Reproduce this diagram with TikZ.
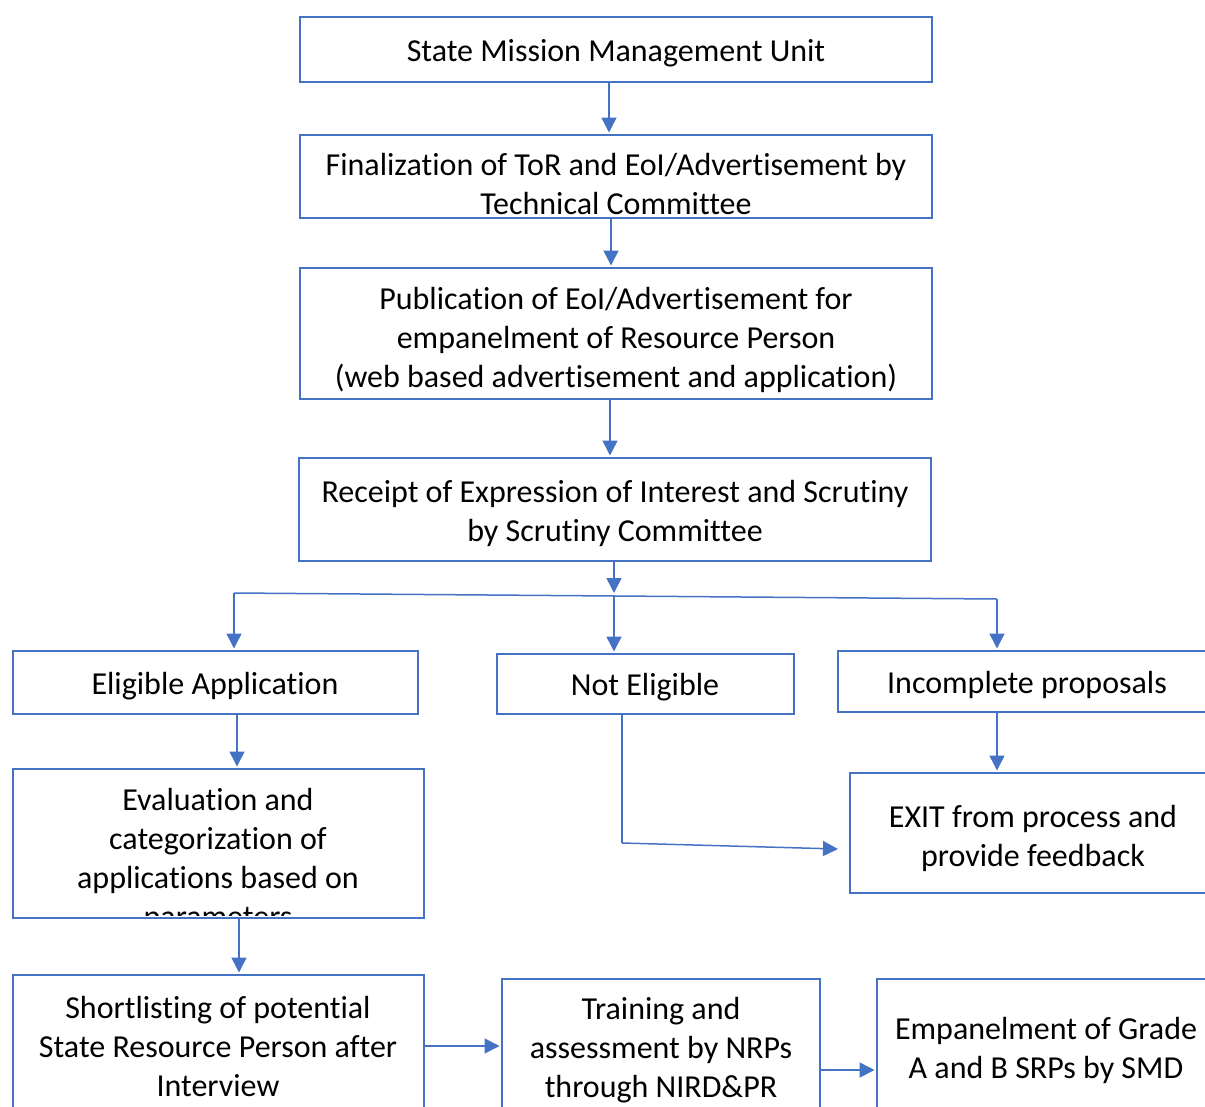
\documentclass[tikz,border=0pt]{standalone}
\usepackage{fontspec}
\setmainfont[Ligatures=NoCommon]{Carlito}
\usetikzlibrary{arrows.meta}
\definecolor{obl}{HTML}{4472C4}
\begin{document}
\begin{tikzpicture}[x=1pt,y=-1pt,
  box/.style={draw=obl, line width=2pt, inner sep=0pt},
  txt/.style={align=center, font=\fontsize{32}{39}\selectfont, inner sep=0pt, text=black},
  conn/.style={draw=obl, line width=1.5pt, -{Triangle[length=15pt,width=15pt]}, shorten >=1.5pt},
  ln/.style={draw=obl, line width=1.5pt}]
\useasboundingbox (0,0) rectangle (1205,1106);
\clip (0,0) rectangle (1205,1106);
\fill[white] (0,0) rectangle (1205,1106);

% boxes
\node[box, minimum width=632pt, minimum height=65pt] (smmu) at (616,49.5) {};
\node[txt] (smmut) at (616,53) {State Mission Management Unit};

\node[box, minimum width=632pt, minimum height=83pt] (fin) at (616,176.5) {};
\begin{scope}
\clip (300,135) rectangle (932,217);
\node[txt] (fint) at (616,184) {Finalization of ToR and EoI/Advertisement by\\Technical Committee};
\end{scope}

\node[box, minimum width=632pt, minimum height=131pt] (pub) at (616,333.5) {};
\node[txt] (pubt) at (616,340) {Publication of EoI/Advertisement for\\empanelment of Resource Person\\(web based advertisement and application)};

\node[box, minimum width=632pt, minimum height=103pt] (rec) at (615,509.5) {};
\node[txt] (rect) at (615,513) {Receipt of Expression of Interest and Scrutiny\\by Scrutiny Committee};

\node[box, minimum width=405pt, minimum height=63pt] (elig) at (215.5,682.5) {};
\node[txt] (eligt) at (215,686) {Eligible Application};

\node[box, minimum width=297pt, minimum height=60pt] (noel) at (645.5,684) {};
\node[txt] (noelt) at (645,687) {Not Eligible};

\node[box, minimum width=378pt, minimum height=61pt] (inc) at (1027,681.5) {};
\node[txt] (inct) at (1027,685) {Incomplete proposals};

\node[box, minimum width=411pt, minimum height=149pt] (eval) at (218.5,843.5) {};
\begin{scope}
\clip (13,769) rectangle (424,915);
\node[txt] (evalt) at (218,860) {Evaluation and\\categorization of\\applications based on\\parameters};
\end{scope}

\node[box, minimum width=366pt, minimum height=120pt] (exit) at (1033,833) {};
\node[txt] (exitt) at (1033,838) {EXIT from process and\\provide feedback};

\node[box, minimum width=411pt, minimum height=142pt] (short) at (218.5,1046) {};
\node[txt] (shortt) at (218,1046) {Shortlisting of potential\\State Resource Person after\\Interview};

\node[box, minimum width=318pt, minimum height=138pt] (train) at (661,1048) {};
\node[txt] (traint) at (661,1050) {Training and\\assessment by NRPs\\through NIRD\&PR};

\node[box, minimum width=338pt, minimum height=137pt] (emp) at (1046,1047.5) {};
\node[txt] (empt) at (1046,1050) {Empanelment of Grade\\A and B SRPs by SMD};

% helper coordinates
\coordinate (c1) at (609,0);
\coordinate (c2) at (611,0);
\coordinate (c3) at (610,0);
\coordinate (jL) at (234,593);
\coordinate (jM) at (614,596);
\coordinate (jR) at (997,599);
\coordinate (c5) at (237,0);
\coordinate (c6) at (239,0);
\coordinate (k) at (622,843);
\coordinate (ke) at (838,849);
\coordinate (t2) at (0,1070);

% connectors
\draw[conn] (smmu.south -| c1) -- (fin.north -| c1);
\draw[conn] (fin.south -| c2) -- (pub.north -| c2);
\draw[conn] (pub.south -| c3) -- (rec.north -| c3);
\draw[conn, shorten >=3pt] (rec.south -| jM) -- (jM);
\draw[ln] (jL) -- (jR);
\draw[conn] (jL) -- (elig.north -| jL);
\draw[conn] (jM) -- (noel.north -| jM);
\draw[conn] (jR) -- (inc.north -| jR);
\draw[conn] (elig.south -| c5) -- (eval.north -| c5);
\draw[conn] (eval.south -| c6) -- (short.north -| c6);
\draw[conn] (inc.south -| jR) -- (exit.north -| jR);
\draw[ln] (noel.south -| k) -- (k);
\draw[conn, shorten >=0pt] (k) -- (ke);
\draw[conn] (short.east) -- (short.east -| train.west);
\draw[conn] (train.east |- t2) -- (emp.west |- t2);
\end{tikzpicture}
\end{document}
